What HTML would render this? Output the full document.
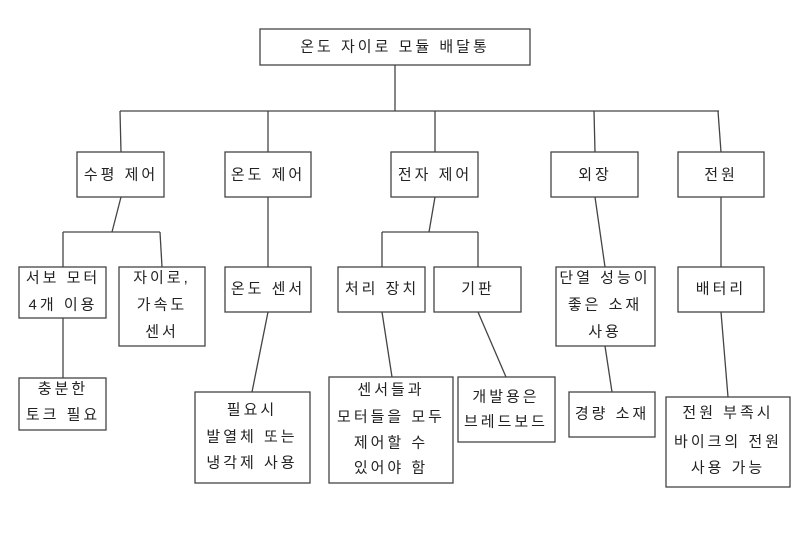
<!DOCTYPE html>
<html><head><meta charset="utf-8"><style>
html,body{margin:0;padding:0;background:#fff;}
svg{display:block;}
text{font-family:"Liberation Sans","Noto Sans CJK KR","NanumGothic",sans-serif;font-size:15px;fill:#222;text-anchor:middle;dominant-baseline:central;letter-spacing:3px;}
rect{fill:#fff;stroke:#444;stroke-width:1.3;}
line{stroke:#444;stroke-width:1.3;}
</style></head><body>
<svg width="800" height="539" viewBox="0 0 800 539" xmlns="http://www.w3.org/2000/svg">
<!-- connectors -->
<line x1="395" y1="65" x2="395" y2="111"/>
<line x1="120" y1="111" x2="719" y2="111"/>
<line x1="120" y1="111" x2="121" y2="152"/>
<line x1="268" y1="111" x2="268" y2="152"/>
<line x1="435" y1="111" x2="435" y2="152"/>
<line x1="594" y1="111" x2="595" y2="152"/>
<line x1="718" y1="111" x2="721" y2="152"/>

<line x1="121" y1="197" x2="112" y2="232"/>
<line x1="63" y1="232" x2="160" y2="232"/>
<line x1="63" y1="232" x2="63" y2="267"/>
<line x1="160" y1="232" x2="162" y2="267"/>
<line x1="268" y1="197" x2="268" y2="267"/>
<line x1="435" y1="197" x2="429" y2="232"/>
<line x1="382" y1="232" x2="478" y2="232"/>
<line x1="382" y1="232" x2="382" y2="267"/>
<line x1="478" y1="232" x2="478" y2="267"/>
<line x1="595" y1="197" x2="605" y2="267"/>
<line x1="721" y1="197" x2="721" y2="267"/>

<line x1="63" y1="318" x2="63" y2="378"/>
<line x1="268" y1="312" x2="252" y2="392"/>
<line x1="382" y1="312" x2="392" y2="377"/>
<line x1="478" y1="312" x2="506" y2="377"/>
<line x1="605" y1="346" x2="612" y2="392"/>
<line x1="721" y1="312" x2="728" y2="397"/>

<!-- root -->
<rect x="260" y="29" width="270" height="36"/>
<text x="395" y="47">온도 자이로 모듈 배달통</text>

<!-- level 1 -->
<rect x="77" y="152" width="87" height="45"/><text x="121" y="175">수평 제어</text>
<rect x="225" y="152" width="86" height="45"/><text x="268" y="175">온도 제어</text>
<rect x="391" y="152" width="87" height="45"/><text x="435" y="175">전자 제어</text>
<rect x="551" y="152" width="87" height="45"/><text x="595" y="175">외장</text>
<rect x="678" y="152" width="86" height="45"/><text x="721" y="175">전원</text>

<!-- level 2 -->
<rect x="19" y="267" width="87" height="51"/>
<text x="63" y="278">서보 모터</text><text x="63" y="305">4개 이용</text>
<rect x="119" y="267" width="86" height="79"/>
<text x="162" y="278">자이로,</text><text x="162" y="305">가속도</text><text x="162" y="332">센서</text>
<rect x="225" y="267" width="86" height="45"/><text x="268" y="289">온도 센서</text>
<rect x="338" y="267" width="87" height="45"/><text x="382" y="289">처리 장치</text>
<rect x="434" y="267" width="87" height="45"/><text x="478" y="289">기판</text>
<rect x="556" y="267" width="99" height="79"/>
<text x="605" y="278">단열 성능이</text><text x="605" y="305">좋은 소재</text><text x="605" y="332">사용</text>
<rect x="678" y="267" width="86" height="45"/><text x="721" y="289">배터리</text>

<!-- level 3 -->
<rect x="19" y="378" width="87" height="52"/>
<text x="63" y="389">충분한</text><text x="63" y="415">토크 필요</text>
<rect x="195" y="392" width="115" height="91"/>
<text x="252" y="410">필요시</text><text x="252" y="437">발열체 또는</text><text x="252" y="463">냉각제 사용</text>
<rect x="329" y="377" width="124" height="106"/>
<text x="391" y="390">센서들과</text><text x="391" y="417">모터들을 모두</text><text x="391" y="443">제어할 수</text><text x="391" y="468">있어야 함</text>
<rect x="458" y="377" width="97" height="65"/>
<text x="506" y="397">개발용은</text><text x="506" y="422">브레드보드</text>
<rect x="569" y="392" width="86" height="45"/><text x="612" y="414">경량 소재</text>
<rect x="666" y="397" width="124" height="90"/>
<text x="728" y="413">전원 부족시</text><text x="728" y="442">바이크의 전원</text><text x="728" y="468">사용 가능</text>
</svg>
</body></html>
